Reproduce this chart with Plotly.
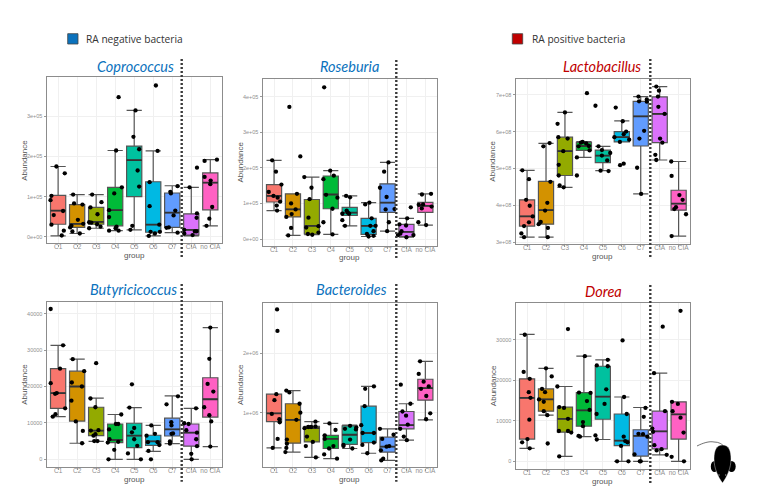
import plotly.graph_objects as go

W, H = 782, 498
MARGIN = 8
FIG_W, FIG_H = W - 2 * MARGIN, H - 2 * MARGIN
categories = ["C1", "C2", "C3", "C4", "C5", "C6", "C7", "CIA", "no CIA"]
fill_colors = ["#F8766D", "#D39200", "#93AA00", "#00BA38", "#00C19F", "#00B9E3", "#619CFF", "#DB72FB", "#FF61C3"]

# ---------- Coprococcus (values in 1e5) ----------
copro_q1 = [0.31, 0.23, 0.31, 0.27, 1.00, 0.11, 0.23, 0.04, 0.67]
copro_med = [0.65, 0.32, 0.37, 0.66, 1.91, 0.30, 0.60, 0.17, 1.35]
copro_q3 = [1.03, 0.80, 0.73, 1.23, 2.26, 1.37, 1.09, 0.57, 1.59]
copro_lo = [0.02, 0.08, 0.21, 0.15, 0.17, 0.02, 0.10, 0.02, 0.27]
copro_hi = [1.75, 1.05, 1.05, 2.15, 3.15, 2.14, 1.27, 1.23, 1.92]
copro_jit = [
    [-.09, .35, -.35, -.40, -.23, -.35, .26, .30, .19],
    [-.21, -.16, .28, .04, .32, -.37, -.30, -.25, .14],
    [-.21, .28, -.30, .07, -.37, -.37, .05, .23, -.25],
    [.18, .05, .35, -.05, -.32, -.32, .07, .02, .18, -.32],
    [.07, -.04, .26, .18, .26, -.10, -.20],
    [.14, .23, -.19, -.19, .32, -.14, .09, .35, -.23],
    [.28, -.10, -.07, .16, .07, -.18, -.30, .28],
    [.30, -.09, .30, .28, -.37, -.37, .07, .19, .28],
    [.35, -.30, -.30, .02, 0, .10, -.05, -.20],
]
copro_pts = [
    [1.75, 1.58, 1.02, .91, .54, .30, .64, .15, .03],
    [1.05, .83, .80, .42, .32, .23, .27, .13, .08],
    [1.05, .86, .73, .56, .36, .21, .31, .25, .35],
    [3.48, 2.15, 1.23, 1.08, .66, .49, .25, .21, .15, .15],
    [3.15, 2.49, 2.18, 1.65, 1.25, .27, .17],
    [3.77, 2.14, 1.36, .76, .30, .12, .08, .12, .02],
    [1.26, 1.12, 1.08, .65, .53, .23, .22, .10],
    [1.72, 1.23, .58, .47, .17, .08, .04, .13, .13],
    [1.92, 1.89, 1.49, 1.40, 1.31, .74, .45, .27],
]

# ---------- Roseburia (values in 1e5) ----------
rose_q1 = [1.04, 0.62, 0.14, 0.85, 0.66, 0.13, 0.75, 0.07, 0.75]
rose_med = [1.21, 0.83, 0.37, 1.25, 0.74, 0.37, 1.02, 0.20, 0.93]
rose_q3 = [1.53, 1.27, 1.11, 1.77, 0.89, 0.58, 1.55, 0.41, 1.03]
rose_lo = [0.80, 0.10, 0.12, 0.13, 0.37, 0.07, 0.22, 0.05, 0.39]
rose_hi = [2.21, 1.27, 1.74, 1.92, 1.21, 1.02, 2.15, 0.58, 1.27]
rose_jit = [
    [-.10, .10, .39, -.28, -.03, .19, .32, .14, .16],
    [-.19, .39, .21, -.10, .14, -.07, -.35, -.10, -.25],
    [-.40, -.02, -.12, -.18, -.30, .35, .35, -.21, .02],
    [-.35, -.03, .16, -.39, -.25, .35, .09, -.39, .09],
    [-.19, .02, -.16, -.10, -.03, -.39, -.39, -.25],
    [.04, -.18, .16, .09, .37, .26, -.09, 0, .26],
    [.05, -.18, -.40, -.05, -.10, .37, .07, -.02],
    [.23, .04, -.37, -.02, -.26, -.32, -.45, .37, 0],
    [.30, -.18, -.35, -.12, -.19, .33, -.37, .04],
]
rose_pts = [
    [2.21, 1.89, 1.53, 1.32, 1.21, 1.16, 1.05, .94, .80],
    [3.71, 2.32, 1.27, 1.00, .83, .70, .62, .31, .10],
    [1.74, 1.44, 1.12, .60, .32, .36, .18, .14, .12],
    [4.26, 1.92, 1.78, 1.68, 1.24, 1.16, .85, .47, .13],
    [1.21, 1.17, .80, .74, .71, .71, .53, .37],
    [1.02, .97, .58, .37, .37, .22, .14, .07, .09],
    [2.15, 1.89, 1.44, 1.18, .83, .84, .47, .22],
    [.89, .58, .41, .38, .22, .15, .11, .11, .05],
    [1.27, 1.25, .96, .97, .86, .91, .47, .39],
]

# ---------- Lactobacillus (values in 1e8) ----------
lacto_q1 = [3.44, 3.49, 4.81, 5.49, 5.16, 5.72, 5.61, 5.70, 3.87]
lacto_med = [3.70, 3.87, 5.47, 5.61, 5.35, 5.85, 6.41, 6.48, 4.05]
lacto_q3 = [4.15, 4.65, 5.85, 5.71, 5.50, 6.00, 6.82, 6.94, 4.41]
lacto_lo = [3.14, 3.14, 4.49, 5.30, 4.94, 5.72, 4.31, 5.23, 3.17]
lacto_hi = [4.95, 5.68, 6.52, 5.73, 5.60, 6.29, 6.95, 7.22, 5.19]
lacto_jit = [
    [-.25, .10, -.05, .14, .30, .10, -.16, -.30, -.16],
    [.19, -.14, .23, .07, -.05, -.28, -.39, .10, .09],
    [0, -.39, -.35, .14, -.09, -.33, -.33, -.28, -.07],
    [.16, -.37, -.37, -.28, -.16, -.07, .12, .26, .30],
    [-.39, -.23, -.05, .39, -.05, .23, -.12, .30],
    [-.32, .05, .23, .10, -.39, .39, -.10, .10, -.09],
    [-.12, -.09, .32, .32, .18, -.07, -.19, .02],
    [-.18, -.04, -.09, -.07, .26, .02, .14, -.23, -.18],
    [-.39, -.37, .04, .21, -.14, -.23, .39, -.37],
]
lacto_pts = [
    [4.95, 4.71, 4.15, 3.99, 3.70, 3.54, 3.44, 3.24, 3.14],
    [5.69, 5.60, 4.64, 4.07, 3.86, 3.55, 3.49, 3.39, 3.14],
    [6.52, 6.21, 5.85, 5.81, 5.47, 5.10, 4.81, 4.54, 4.49],
    [7.04, 4.81, 5.30, 5.60, 5.70, 5.72, 5.68, 5.61, 5.49],
    [6.70, 5.60, 5.50, 5.42, 5.35, 5.22, 4.94, 4.93],
    [6.65, 6.28, 6.00, 5.93, 5.85, 5.78, 5.72, 5.13, 5.09],
    [6.95, 6.82, 6.87, 6.81, 6.02, 5.81, 5.02, 4.31],
    [7.22, 7.11, 6.95, 6.67, 6.48, 5.81, 5.70, 5.37, 5.23],
    [5.19, 4.80, 4.28, 4.15, 3.95, 3.90, 3.76, 3.17],
]

# ---------- Butyricicoccus (values in 1e4) ----------
buty_q1 = [1.40, 1.05, 0.65, 0.46, 0.32, 0.38, 0.64, 0.36, 1.16]
buty_med = [1.82, 2.00, 0.79, 0.53, 0.65, 0.49, 0.82, 0.73, 1.65]
buty_q3 = [2.49, 2.42, 1.43, 0.97, 0.99, 0.66, 1.13, 0.97, 2.24]
buty_lo = [1.17, 0.44, 0.49, 0.00, 0.00, 0.22, 0.43, 0.00, 0.35]
buty_hi = [3.13, 2.75, 1.68, 1.23, 1.42, 0.93, 1.74, 1.40, 3.62]
buty_jit = [
    [-.39, .26, .10, -.39, -.16, -.07, .37, -.14, -.28],
    [-.23, .37, -.28, .25, -.30, -.07, .30, .26],
    [0, -.30, -.04, .12, -.28, -.04, -.14, -.10, .07],
    [.32, .04, .16, -.32, -.30, -.39, .16, -.05, -.35],
    [-.12, -.25, 0, -.12, 0, .16, -.33, .35],
    [-.10, .09, -.35, -.28, .23, .32, -.25, -.12],
    [.30, -.30, -.05, -.04, .04, -.04, -.12, -.12],
    [.25, -.37, -.14, -.26, .30, .26, .30, 0, .02],
    [0, -.05, -.14, .16, -.32, -.05, .05, 0],
]
buty_pts = [
    [4.13, 3.13, 2.49, 2.09, 1.80, 1.82, 1.40, 1.24, 1.17],
    [2.75, 2.42, 2.11, 2.00, 1.61, 1.04, .78, .44],
    [2.64, 1.67, 1.43, .80, .79, .69, .65, .50, .50],
    [1.23, .97, .97, .82, .55, .46, .48, .26, 0],
    [2.06, 1.42, .86, .74, .55, .37, .16, 0],
    [.93, .70, .65, .47, .47, .39, .23, 0],
    [1.73, 1.51, 1.02, .93, .71, .70, .49, .43],
    [1.40, .99, .97, .80, .73, .55, .36, .15, 0],
    [3.62, 2.76, 2.07, 1.86, 1.43, 1.21, 1.04, .35],
]

# ---------- Bacteroides (values in 1e6) ----------
bact_q1 = [0.85, 0.49, 0.51, 0.40, 0.47, 0.50, 0.34, 0.73, 1.21]
bact_med = [0.99, 0.88, 0.74, 0.56, 0.63, 0.66, 0.43, 0.79, 1.41]
bact_q3 = [1.31, 1.15, 0.77, 0.62, 0.78, 1.11, 0.59, 1.02, 1.56]
bact_lo = [0.41, 0.34, 0.25, 0.23, 0.40, 0.32, 0.20, 0.54, 0.88]
bact_hi = [1.31, 1.37, 0.85, 0.82, 0.79, 1.44, 0.73, 1.15, 1.86]
bact_jit = [
    [.16, .18, .12, .02, -.12, .28, .30, .19, -.07],
    [-.35, -.19, .35, .39, .18, -.32, -.32, -.35, -.40],
    [.19, -.39, -.19, -.04, .19, -.26, .05, -.32, .21],
    [-.07, .25, -.32, -.32, .14, -.09, -.35, .33],
    [.02, -.25, .35, .33, .02, -.33, -.33, .14],
    [.28, -.18, -.21, -.39, -.32, .28, -.33, .28, -.07],
    [-.40, .32, -.28, -.05, .09, -.35, -.23, -.33],
    [-.30, .21, -.21, -.02, .07, -.33, -.14, .02],
    [-.28, -.35, -.09, .18, -.23, .05, .26, .04],
]
bact_pts = [
    [2.73, 2.37, 1.31, 1.21, .98, .89, .84, .56, .41],
    [1.37, 1.34, 1.15, 1.00, .88, .55, .48, .41, .34],
    [.85, .74, .76, .76, .77, .60, .51, .44, .25],
    [.82, .71, .62, .56, .44, .40, .30, .23],
    [.78, .73, .75, .72, .55, .46, .44, .40],
    [1.44, 1.40, 1.11, .79, .66, .66, .46, .50, .32],
    [.73, .63, .56, .43, .44, .37, .23, .20],
    [1.47, 1.15, 1.02, .95, .80, .73, .60, .54],
    [1.86, 1.65, 1.52, 1.44, 1.40, 1.28, .99, .89],
]

# ---------- Dorea (values in 1e4) ----------
dorea_q1 = [0.55, 1.24, 0.72, 0.87, 1.04, 0.39, 0.13, 0.31, 0.55]
dorea_med = [1.57, 1.53, 1.05, 1.26, 1.60, 0.51, 0.63, 0.74, 1.16]
dorea_q3 = [2.04, 1.79, 1.34, 1.70, 2.35, 1.17, 0.78, 1.24, 1.47]
dorea_lo = [0.32, 1.14, 0.12, 0.61, 0.54, 0.00, 0.00, 0.16, 0.00]
dorea_hi = [3.14, 2.30, 1.85, 2.60, 2.51, 1.59, 1.33, 2.18, 1.47]
dorea_jit = [
    [-.12, -.18, .14, .09, .18, .12, .02, -.26, .14],
    [0, .30, -.21, -.05, -.37, -.12, -.12, .07, .09],
    [.16, -.40, -.30, -.05, .16, -.32, .16, .33, -.30],
    [.05, -.26, .35, .16, .30, -.05, -.05, -.28, -.21],
    [.26, -.32, .26, .18, .09, -.33, -.39, -.32],
    [.04, .12, .26, .10, .18, .30, -.04, -.25, .35],
    [.25, .16, -.12, .12, .35, -.33, -.05, 0],
    [.16, -.30, .28, -.39, -.35, -.28, -.16, .10, .37],
    [.10, -.35, -.04, -.32, .10, .26, -.37, .28],
]
dorea_pts = [
    [3.13, 2.21, 2.04, 1.71, 1.57, 1.03, .55, .47, .32],
    [2.30, 2.10, 1.79, 1.71, 1.53, 1.47, 1.24, 1.14, .44],
    [3.27, 1.85, 1.34, 1.32, 1.05, .75, .75, .71, .12],
    [2.60, 1.70, 1.69, 1.49, 1.27, .97, .87, .63, .61],
    [2.51, 2.37, 2.35, 1.78, 1.42, 1.17, .64, .54],
    [2.99, 1.59, 1.17, .61, .50, .47, .38, 0, 0],
    [1.32, 1.10, .68, .67, .61, .17, 0, 0],
    [3.33, 2.18, 1.24, .81, .73, .40, .27, .30, .16],
    [3.72, 1.47, 1.42, 1.24, 1.08, .71, .11, 0],
]

BLUE, RED = "#0B72BD", "#C00000"

panels = [
    dict(name="Coprococcus", color=BLUE, box=(46.7, 221.7, 77.3, 243.3), rng=(-.165, 3.975), scale=1e5,
         tv=[0, 1, 2, 3], tt=["0e+00", "1e+05", "2e+05", "3e+05"], div=(181.7, 59, 258), tx=(135, 66), yt=24.5,
         s=(copro_q1, copro_med, copro_q3, copro_lo, copro_hi), j=copro_jit, p=copro_pts),
    dict(name="Roseburia", color=BLUE, box=(262.7, 436.7, 79.3, 245.7), rng=(-.188, 4.486), scale=1e5,
         tv=[0, 1, 2, 3, 4], tt=["0e+00", "1e+05", "2e+05", "3e+05", "4e+05"], div=(396.3, 60, 258), tx=(349, 66), yt=240,
         s=(rose_q1, rose_med, rose_q3, rose_lo, rose_hi), j=rose_jit, p=rose_pts),
    dict(name="Lactobacillus", color=RED, box=(515.7, 690, 79.3, 244), rng=(2.954, 7.417), scale=1e8,
         tv=[3, 4, 5, 6, 7], tt=["3e+08", "4e+08", "5e+08", "6e+08", "7e+08"], div=(650.3, 59, 258), tx=(602, 66), yt=493,
         s=(lacto_q1, lacto_med, lacto_q3, lacto_lo, lacto_hi), j=lacto_jit, p=lacto_pts),
    dict(name="Butyricicoccus", color=BLUE, box=(46.7, 221.7, 301.7, 467), rng=(-.212, 4.33), scale=1e4,
         tv=[0, 1, 2, 3, 4], tt=["0", "10000", "20000", "30000", "40000"], div=(181.7, 284, 481.7), tx=(134, 289), yt=24.5,
         s=(buty_q1, buty_med, buty_q3, buty_lo, buty_hi), j=buty_jit, p=buty_pts),
    dict(name="Bacteroides", color=BLUE, box=(262.7, 436.7, 302.7, 467.3), rng=(.085, 2.843), scale=1e6,
         tv=[1, 2], tt=["1e+06", "2e+06"], div=(396.3, 284, 481.7), tx=(351, 289), yt=240,
         s=(bact_q1, bact_med, bact_q3, bact_lo, bact_hi), j=bact_jit, p=bact_pts),
    dict(name="Dorea", color=RED, box=(515.7, 690, 303.3, 469), rng=(-.19, 3.907), scale=1e4,
         tv=[0, 1, 2, 3], tt=["0", "10000", "20000", "30000"], div=(650.3, 285, 483), tx=(603, 291), yt=493,
         s=(dorea_q1, dorea_med, dorea_q3, dorea_lo, dorea_hi), j=dorea_jit, p=dorea_pts),
]

def px(x):
    return (x - MARGIN) / FIG_W

def py(y):
    return 1 - (y - MARGIN) / FIG_H

fig = go.Figure()
shapes, annotations = [], []
layout_axes = {}
BOX_W = 0.8
axis_font = dict(size=8, color="#555555", family="Liberation Sans")

for n, P in enumerate(panels, start=1):
    ax = "" if n == 1 else str(n)
    xa, ya = f"x{ax}", f"y{ax}"
    L, R, T, B = P["box"]
    k = P["scale"]
    q1, med, q3, lo, hi = P["s"]
    for i, cat in enumerate(categories):
        pos = i + 1
        fig.add_trace(go.Box(
            x=[pos], q1=[q1[i] * k], median=[med[i] * k], q3=[q3[i] * k],
            lowerfence=[lo[i] * k], upperfence=[hi[i] * k],
            width=BOX_W, whiskerwidth=1, fillcolor=fill_colors[i],
            line=dict(color="#555555", width=1.2), boxpoints=False,
            xaxis=xa, yaxis=ya, showlegend=False, name=cat))
        fig.add_trace(go.Scatter(
            x=[pos - BOX_W / 2, pos + BOX_W / 2], y=[med[i] * k, med[i] * k], mode="lines",
            line=dict(color="#333333", width=1.8), xaxis=xa, yaxis=ya, showlegend=False))
        fig.add_trace(go.Scatter(
            x=[pos + o for o in P["j"][i]], y=[v * k for v in P["p"][i]], mode="markers",
            marker=dict(color="black", size=4.3), xaxis=xa, yaxis=ya, showlegend=False))
    layout_axes[f"xaxis{ax}"] = dict(
        domain=[px(L), px(R)], range=[0.4, 9.6], anchor=ya,
        tickmode="array", tickvals=list(range(1, 10)), ticktext=categories,
        tickfont=dict(size=6.5, color="#8f8f8f", family="Liberation Sans"),
        ticks="outside", ticklen=2, tickcolor="#999999", tickwidth=0.8, ticklabelstandoff=-5,
        showgrid=True, gridcolor="#f0f0f0", gridwidth=0.8, zeroline=False,
        showline=True, mirror=True, linecolor="#8c8c8c", linewidth=1.4)
    ymin, ymax = P["rng"]
    layout_axes[f"yaxis{ax}"] = dict(
        domain=[py(B), py(T)], range=[ymin * k, ymax * k], anchor=xa,
        tickmode="array", tickvals=[t * k for t in P["tv"]], ticktext=P["tt"],
        tickfont=dict(size=5.5, color="#8f8f8f", family="Liberation Sans"),
        ticks="outside", ticklen=2, tickcolor="#999999", tickwidth=0.8,
        showgrid=True, gridcolor="#f0f0f0", gridwidth=0.8, zeroline=False,
        showline=True, mirror=True, linecolor="#8c8c8c", linewidth=1.4)
    annotations.append(dict(text="group", xref="paper", yref="paper", x=px((L + R) / 2), y=py(B + 12.2),
                            showarrow=False, xanchor="center", yanchor="middle", font=axis_font))
    annotations.append(dict(text="Abundance", xref="paper", yref="paper", x=px(P["yt"]), y=py((T + B) / 2),
                            showarrow=False, xanchor="center", yanchor="middle", textangle=-90, font=axis_font))
    dx, y0, y1 = P["div"]
    shapes.append(dict(type="line", xref="paper", yref="paper", x0=px(dx), x1=px(dx),
                       y0=py(y0), y1=py(y1), line=dict(color="#3a3a3a", width=2.4, dash="2px,2px"), layer="above"))
    annotations.append(dict(text=f"<i>{P['name']}</i>", xref="paper", yref="paper", x=px(P["tx"][0]), y=py(P["tx"][1]),
                            showarrow=False, xanchor="center", yanchor="middle",
                            font=dict(size=14.5, color=P["color"], family="Lato")))

# legend swatches
for (x0, x1, col, label, tx) in [(67.7, 78, BLUE, "RA negative bacteria", 84),
                                 (512.3, 522.7, RED, "RA positive bacteria", 530)]:
    shapes.append(dict(type="rect", xref="paper", yref="paper", x0=px(x0), x1=px(x1), y0=py(33.7), y1=py(44),
                       fillcolor=col, line=dict(color="#444444", width=0.8)))
    annotations.append(dict(text=label, xref="paper", yref="paper", x=px(tx), y=py(39), showarrow=False,
                            xanchor="left", yanchor="middle", font=dict(size=10.2, color="#333333", family="Open Sans")))

# mouse icon
def path(points, close=True):
    s = ""
    for cmd, coords in points:
        s += cmd + " ".join(f"{px(x):.5f},{py(y):.5f}" for x, y in coords) + " "
    return s + ("Z" if close else "")

body = path([("M", [(722.5, 445)]),
             ("C", [(716, 445), (714, 451), (714, 459)]),
             ("C", [(714, 468), (718, 477), (722.5, 483)]),
             ("C", [(727, 477), (731, 468), (731, 459)]),
             ("C", [(731, 451), (729, 445), (722.5, 445)])])
tail = path([("M", [(697, 446)]), ("C", [(703, 443), (709, 441), (714, 442)]), ("C", [(719, 442), (722, 444), (725, 447)])], close=False)
shapes.append(dict(type="path", xref="paper", yref="paper", path=tail, line=dict(color="#333333", width=0.7)))
for cx0, cx1 in ((710.8, 718), (727.5, 735.7)):
    shapes.append(dict(type="circle", xref="paper", yref="paper", x0=px(cx0), x1=px(cx1),
                       y0=py(472), y1=py(461), fillcolor="black", line=dict(width=0)))
shapes.append(dict(type="path", xref="paper", yref="paper", path=body, fillcolor="black",
                   line=dict(color="white", width=0.4)))
for ex in (719, 725.7):
    shapes.append(dict(type="circle", xref="paper", yref="paper", x0=px(ex - .7), x1=px(ex + .7),
                       y0=py(475.7), y1=py(474.3), fillcolor="#9a9a9a", line=dict(width=0)))

fig.update_layout(width=FIG_W, height=FIG_H, margin=dict(l=0, r=0, t=0, b=0), paper_bgcolor="white", plot_bgcolor="white",
                  showlegend=False, shapes=shapes, annotations=annotations, boxmode="overlay", **layout_axes)
fig.write_html("out.html")
